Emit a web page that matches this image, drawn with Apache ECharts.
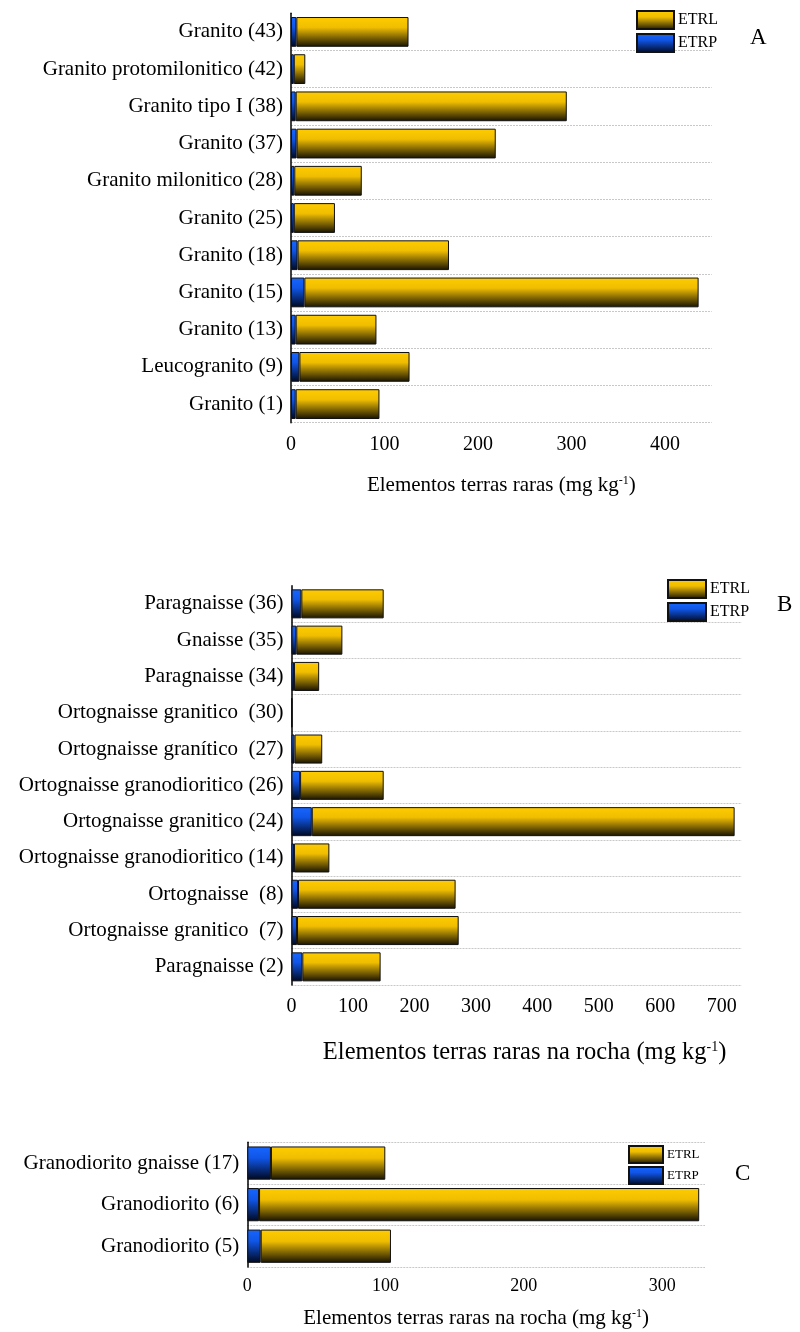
<!DOCTYPE html>
<html>
<head>
<meta charset="utf-8">
<script src="https://cdn.jsdelivr.net/npm/echarts@6/dist/echarts.min.js"></script>
<style>
  html, body { margin: 0; padding: 0; background: #fff; }
  #chart { width: 800px; height: 1332px; }
</style>
</head>
<body>
<div id="chart"></div>
<script>
// A - granitos
const catsA = ["Granito (43)", "Granito protomilonitico (42)", "Granito tipo I (38)", "Granito (37)",
  "Granito milonitico (28)", "Granito (25)", "Granito (18)", "Granito (15)", "Granito (13)",
  "Leucogranito (9)", "Granito (1)"];
const etrpA = [5.7, 3, 5, 6, 3.5, 3, 7, 14.3, 5, 9, 5];
const etrlA = [120, 12.3, 290, 213, 72.2, 44, 162, 421.7, 86.4, 117.8, 89.6];
const ticksA = [0, 100, 200, 300, 400];

// B - gnaisses
const catsB = ["Paragnaisse (36)", "Gnaisse (35)", "Paragnaisse (34)", "Ortognaisse granitico  (30)",
  "Ortognaisse granítico  (27)", "Ortognaisse granodioritico (26)", "Ortognaisse granitico (24)",
  "Ortognaisse granodioritico (14)", "Ortognaisse  (8)", "Ortognaisse granitico  (7)", "Paragnaisse (2)"];
const etrpB = [16, 7.8, 4, 0.3, 5, 14, 33, 4, 10.6, 9, 17.6];
const etrlB = [134, 75, 41, 0.5, 45, 136, 688, 57.6, 256.4, 263, 127.4];
const ticksB = [0, 100, 200, 300, 400, 500, 600, 700];

// C - granodioritos
const catsC = ["Granodiorito gnaisse (17)", "Granodiorito (6)", "Granodiorito (5)"];
const etrpC = [17.1, 8.5, 9.7];
const etrlC = [82.7, 318.3, 94.2];
const ticksC = [0, 100, 200, 300];

const FONT = "Liberation Serif";

// minor ticks every 20
const minorOf = (max) => {
  const out = [];
  for (let v = 0; v <= max; v += 20) out.push(v);
  return out;
};

const yellow = new echarts.graphic.LinearGradient(0, 0, 0, 1, [
  { offset: 0, color: "#FFCC00" },
  { offset: 0.35, color: "#F0BE00" },
  { offset: 1, color: "#171200" },
]);
const blue = new echarts.graphic.LinearGradient(0, 0, 0, 1, [
  { offset: 0, color: "#1766FF" },
  { offset: 0.35, color: "#1055E6" },
  { offset: 1, color: "#00081E" },
]);

const panels = [
  { cats: catsA, p: etrpA, l: etrlA, ticks: ticksA, max: 450,
    grid: { left: 291, top: 13.3, width: 420.7, height: 409.4 },
    name: "Elementos terras raras (mg kg{s|-1})", nameSize: 21, nameGap: 52, namePad: 0,
    tickSize: 20, margin: 12, minLine: false,
    legend: { left: 636, top: 10, w: 37, h: 18, gap: 3, fs: 16 },
    letter: { t: "A", x: 750, y: 39 } },
  { cats: catsB, p: etrpB, l: etrlB, ticks: ticksB, max: 732.5,
    grid: { left: 291.5, top: 585.7, width: 450.2, height: 399.3 },
    name: "Elementos terras raras na rocha (mg kg{s|-1})", nameSize: 24.5, nameGap: 55, namePad: 16,
    tickSize: 20, margin: 12, minLine: false,
    legend: { left: 667, top: 579, w: 38, h: 18, gap: 3, fs: 16 },
    letter: { t: "B", x: 777, y: 606 } },
  { cats: catsC, p: etrpC, l: etrlC, ticks: ticksC, max: 331,
    grid: { left: 247.3, top: 1142.3, width: 457.7, height: 124.7 },
    name: "Elementos terras raras na rocha (mg kg{s|-1})", nameSize: 21, nameGap: 41, namePad: 0,
    tickSize: 18, margin: 10, minLine: true,
    legend: { left: 628, top: 1145, w: 34, h: 17, gap: 2, fs: 13 },
    letter: { t: "C", x: 735, y: 1175 } },
];

const grid = [], xAxis = [], yAxis = [], series = [], legend = [], graphic = [];

panels.forEach((pn, g) => {
  grid.push({ ...pn.grid, outerBoundsMode: "none", containLabel: false });
  xAxis[g] = {
    gridIndex: g, type: "value", position: "bottom", min: 0, max: pn.max,
    axisLine: { lineStyle: { color: "#444", width: 2 } },
    axisTick: { length: 5, customValues: pn.ticks, lineStyle: { color: "#444", width: 1.5 } },
    axisLabel: { customValues: pn.ticks, fontFamily: FONT, fontSize: pn.tickSize, color: "#000", margin: pn.margin },
    splitLine: { show: false },
    name: pn.name, nameLocation: "middle", nameGap: pn.nameGap,
    nameTextStyle: {
      fontFamily: FONT, fontSize: pn.nameSize, color: "#000", padding: [0, 0, 0, pn.namePad],
      rich: { s: { fontFamily: FONT, fontSize: Math.round(pn.nameSize * 0.58), color: "#000", verticalAlign: "top" } },
    },
  };
  xAxis[g + 3] = {
    gridIndex: g, type: "value", position: "bottom", min: 0, max: pn.max,
    axisLine: { show: false }, axisLabel: { show: false }, splitLine: { show: false },
    axisTick: { length: 3, customValues: minorOf(pn.max), lineStyle: { color: "#444", width: 1.2 } },
  };
  yAxis[g] = {
    gridIndex: g, type: "category", data: pn.cats, inverse: true, position: "left",
    axisLine: { lineStyle: { color: "#000", width: 1.5 } },
    axisTick: { length: 3, lineStyle: { color: "#000", width: 1.2 } },
    axisLabel: { fontFamily: FONT, fontSize: 21, color: "#000", margin: 8 },
    splitLine: { show: true, showMinLine: pn.minLine, lineStyle: { color: "#c8c8c8", type: [2, 1], width: 1 } },
  };
  // inner half of the y ticks
  yAxis[g + 3] = {
    gridIndex: g, type: "category", data: pn.cats, inverse: true, position: "left",
    axisLine: { show: false }, axisLabel: { show: false }, splitLine: { show: false },
    axisTick: { inside: true, length: 3, lineStyle: { color: "#000", width: 1.2 } },
  };
  const common = { type: "bar", stack: "s" + g, xAxisIndex: g, yAxisIndex: g, barCategoryGap: "20%", animation: false };
  series.push({ ...common, name: "ETRP", data: pn.p,
    itemStyle: { color: blue, borderColor: "#111", borderWidth: 1 } });
  series.push({ ...common, name: "ETRL", data: pn.l,
    itemStyle: { color: yellow, borderColor: "#111", borderWidth: 1 } });
  legend.push({
    left: pn.legend.left, top: pn.legend.top, orient: "vertical", padding: 0,
    itemWidth: pn.legend.w, itemHeight: pn.legend.h, itemGap: pn.legend.gap,
    icon: "rect", data: ["ETRL", "ETRP"], selectedMode: false,
    textStyle: { fontFamily: FONT, fontSize: pn.legend.fs, color: "#000", padding: [0, 0, 0, -1] },
  });
  graphic.push({
    type: "text", left: pn.letter.x, top: pn.letter.y - 13,
    style: { text: pn.letter.t, font: "23px '" + FONT + "'", fill: "#000" },
  });
});

const chart = echarts.init(document.getElementById("chart"));
chart.setOption({ animation: false, grid, xAxis, yAxis, series, legend, graphic });
</script>
</body>
</html>
